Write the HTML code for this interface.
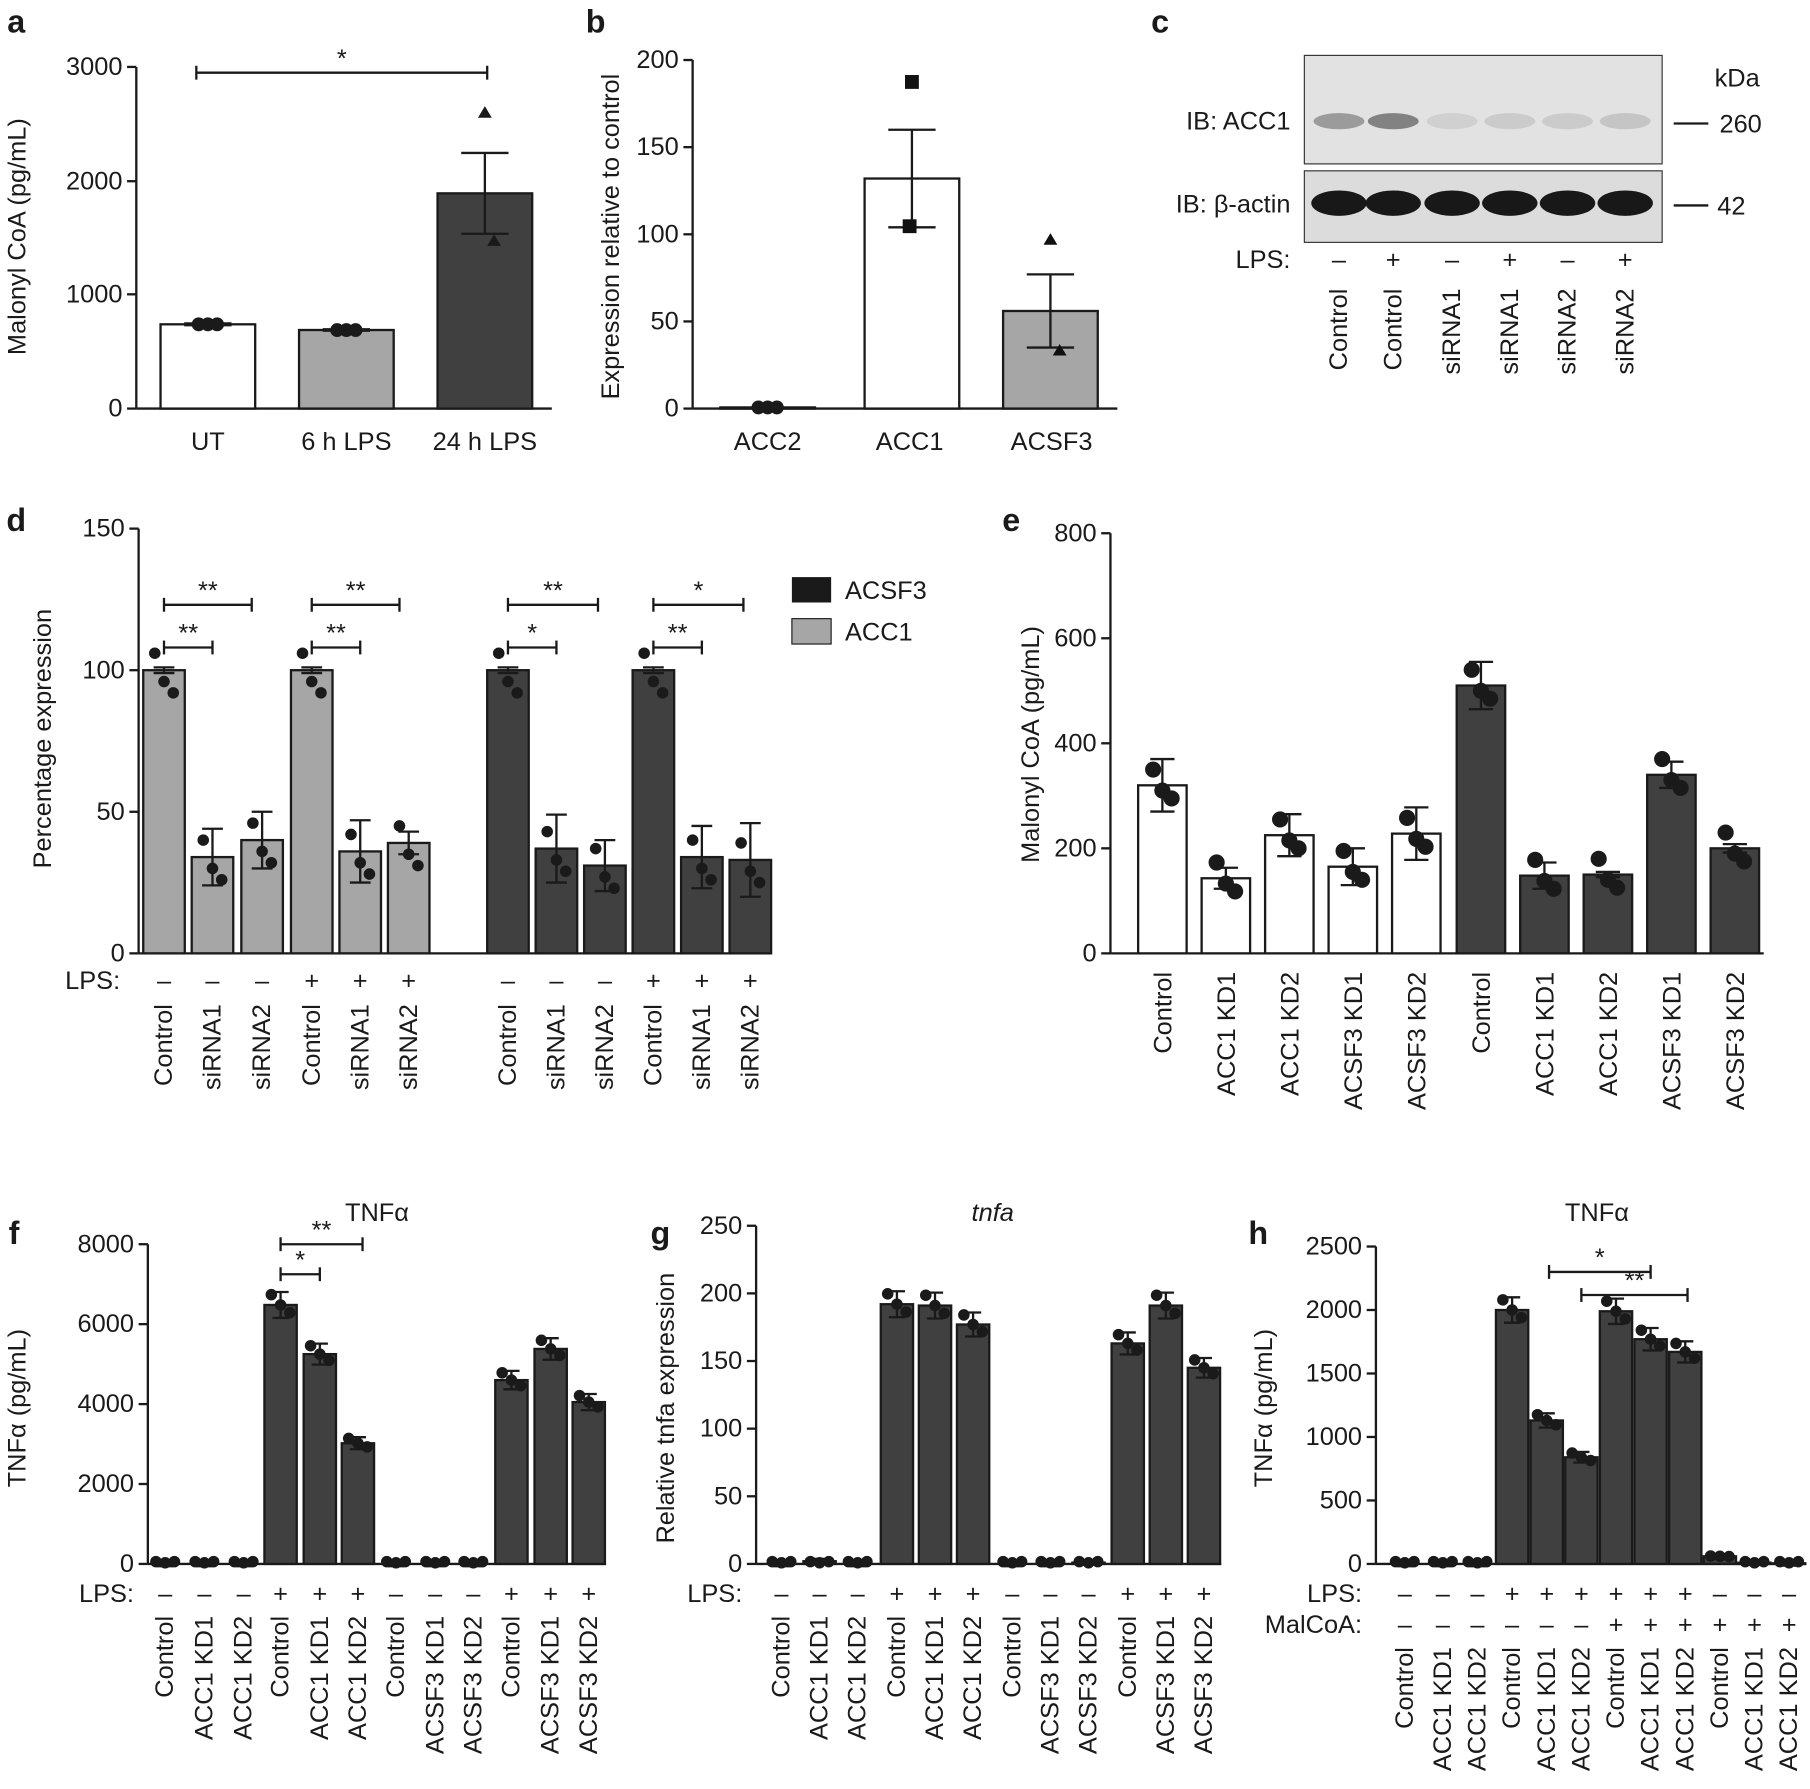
<!DOCTYPE html>
<html><head><meta charset="utf-8"><style>body{margin:0;background:#fff}svg{display:block}</style></head>
<body>
<svg id="s" xmlns="http://www.w3.org/2000/svg" width="1810" height="1789" viewBox="0 0 1568 1550" font-family="Liberation Sans, DejaVu Sans, sans-serif" font-size="22" fill="#1a1a1a"></svg>
<script>
const S=document.getElementById('s');let h='';
const W='#fff',G='#a6a6a6',D='#404040';
function t(x,y,s,o={}){h+=`<text x="${x}" y="${y}" font-size="${o.fs||22}" text-anchor="${o.a||'middle'}" ${o.r?`transform="rotate(-90 ${x} ${y})"`:''} ${o.b?'font-weight="bold"':''} ${o.i?'font-style="italic"':''}>${s}</text>`;}
function l(x1,y1,x2,y2,w=2){h+=`<line x1="${x1}" y1="${y1}" x2="${x2}" y2="${y2}" stroke="#1a1a1a" stroke-width="${w}"/>`;}
function axis(x,y0,y1,ticks,x2){l(x,y0,x,y1);l(x,y0,x2,y0);ticks.forEach(([v,y])=>{l(x-8,y,x,y);t(x-12,y+7,v,{a:'end'});});}
function bar(cx,w,y0,y,fill,err){h+=`<rect x="${cx-w/2}" y="${y}" width="${w}" height="${y0-y}" fill="${fill}" stroke="#1a1a1a" stroke-width="2"/>`;if(err){l(cx,y-err,cx,y+err);l(cx-w/4,y-err,cx+w/4,y-err);l(cx-w/4,y+err,cx+w/4,y+err);}}
function dots(cx,ys,r=6){ys.forEach((y,i)=>{h+=`<circle cx="${cx+(i-1)*8}" cy="${y}" r="${r}" fill="#1a1a1a"/>`;});}
function sig(x1,x2,y,s){l(x1,y,x2,y);l(x1,y-6,x1,y+6);l(x2,y-6,x2,y+6);t((x1+x2)/2,y-5,s);}
// a
t(14,28,'a',{b:1,fs:28});
{const y0=354,k=296/3000;axis(118,y0,58,[[0,354],[1000,255],[2000,157],[3000,58]],478);
[[180,740,W,8],[300,690,G,6],[420,1890,D,355]].forEach(([c,v,f,e])=>bar(c,82,y0,y0-v*k,f,e*k));
dots(180,[281,281,281]);dots(300,[286,286,286]);h+=`<path d="M420 92l6 10h-12zM428 203l6 10h-12z" fill="#1a1a1a"/>`;
['UT','6 h LPS','24 h LPS'].forEach((s,i)=>t(180+i*120,390,s));sig(170,422,63,'*');t(22,205,'Malonyl CoA (pg/mL)',{r:1});}
// b
t(516,28,'b',{b:1,fs:28});
{const y0=354,k=302/200;axis(600,y0,52,[0,50,100,150,200].map(v=>[v,y0-v*k]),968);
bar(665,82,y0,y0-1,W,0);dots(665,[353,353,353]);bar(790,82,y0,y0-132*k,W,28*k);bar(910,82,y0,y0-56*k,G,21*k);
h+=`<rect x="784" y="65" width="12" height="12" fill="#111"/><rect x="782" y="190" width="12" height="12" fill="#111"/><path d="M910 202l6 10h-12zM918 298l6 10h-12z" fill="#111"/>`;
['ACC2','ACC1','ACSF3'].forEach((s,i)=>t(665+i*123,390,s));t(536,205,'Expression relative to control',{r:1});}
// c
t(1005,28,'c',{b:1,fs:28});
h+=`<rect x="1130" y="48" width="310" height="94" fill="#e2e2e2" stroke="#333"/><rect x="1130" y="148" width="310" height="62" fill="#dcdcdc" stroke="#333"/>`;
[1160,1207,1258,1308,1358,1408].forEach((x,i)=>{const o=[0.4,0.55,0.1,0.13,0.13,0.16][i];h+=`<ellipse cx="${x}" cy="105" rx="22" ry="7" fill="#333" opacity="${o}"/><ellipse cx="${x}" cy="176" rx="24" ry="11" fill="#181818"/>`;});
t(1118,112,'IB: ACC1',{a:'end'});t(1118,184,'IB: β-actin',{a:'end'});t(1118,232,'LPS:',{a:'end'});t(1505,75,'kDa');
l(1450,107,1480,107);t(1508,115,'260');l(1450,178,1480,178);t(1500,186,'42');
['Control','Control','siRNA1','siRNA1','siRNA2','siRNA2'].forEach((s,i)=>{const x=[1160,1207,1258,1308,1358,1408][i];t(x,232,i%2?'+':'–');t(x+7,250,s,{r:1,a:'end'});});
// d
t(14,460,'d',{b:1,fs:28});
{const y0=826,k=368/150;axis(120,y0,458,[0,50,100,150].map(v=>[v,y0-v*k]),668);
const c=[142,184,227,270,312,354,440,482,524,566,608,650],v=[100,34,40,100,36,39,100,37,31,100,34,33],e=[1,10,10,1,11,4,1,12,9,1,11,13];
c.forEach((x,i)=>{bar(x,36,y0,y0-v[i]*k,i<6?G:D,e[i]*k);dots(x,[y0-(v[i]+6)*k,y0-(v[i]-4)*k,y0-(v[i]-8)*k],5);});
t(104,857,'LPS:',{a:'end'});c.forEach((x,i)=>{t(x,857,[0,1,2,6,7,8].includes(i)?'–':'+');t(x+7,870,['Control','siRNA1','siRNA2'][i%3],{r:1,a:'end'});});
[[142,184,561],[142,218,524],[270,312,561],[270,346,524],[440,482,561],[440,518,524],[566,608,561],[566,644,524]].forEach(([a,b,y],i)=>sig(a,b,y,[ '**','**','**','**','*','**','**','*'][i]));
h+=`<rect x="686" y="500" width="34" height="22" fill="#1a1a1a"/><rect x="686" y="536" width="34" height="22" fill="${G}" stroke="#1a1a1a"/>`;t(732,519,'ACSF3',{a:'start'});t(732,555,'ACC1',{a:'start'});
t(44,640,'Percentage expression',{r:1});}
// e
t(876,460,'e',{b:1,fs:28});
{const y0=826,k=364/800;axis(962,y0,462,[0,200,400,600,800].map(v=>[v,y0-v*k]),1528);
const c=[1007,1062,1117,1172,1227,1283,1338,1393,1448,1503],v=[320,143,225,165,228,510,148,150,340,200],e=[50,20,40,35,50,45,25,5,25,8];
c.forEach((x,i)=>{bar(x,42,y0,y0-v[i]*k,i<5?W:D,e[i]*k);dots(x,[y0-(v[i]+30)*k,y0-(v[i]-10)*k,y0-(v[i]-25)*k],7);});
const L=['Control','ACC1 KD1','ACC1 KD2','ACSF3 KD1','ACSF3 KD2'];c.forEach((x,i)=>t(x+8,842,L[i%5],{r:1,a:'end'}));
t(900,645,'Malonyl CoA (pg/mL)',{r:1});}
// f,g,h
function panel(lab,lx,ax,ytop,maxv,ticks,c,v,rows,labels,title,ylab,ylx,ita,xend){
t(lx,1078,lab,{b:1,fs:28});const y0=1355,k=(y0-ytop)/maxv;axis(ax,y0,ytop,ticks.map(q=>[q,y0-q*k]),xend);
c.forEach((x,i)=>{bar(x,28,y0,y0-v[i]*k,D,v[i]>20?v[i]*0.05*k:2);if(v[i]>20)dots(x,[y0-v[i]*1.04*k,y0-v[i]*k,y0-v[i]*0.97*k],5);else dots(x,[y0-2,y0-1,y0-2],5);});
rows.forEach((r,ri)=>{t(ax-12,1388+ri*27,r[0],{a:'end'});c.forEach((x,i)=>t(x,1388+ri*27,r[1][i]?'+':'–'));});
const ly=1400+(rows.length-1)*27;c.forEach((x,i)=>t(x+7,ly,labels[i],{r:1,a:'end'}));
t((c[0]+c[c.length-1])/2,1058,title,{i:ita,fs:22});t(ylx,1220,ylab,{r:1});}
const L6=['Control','ACC1 KD1','ACC1 KD2','Control','ACC1 KD1','ACC1 KD2','Control','ACSF3 KD1','ACSF3 KD2','Control','ACSF3 KD1','ACSF3 KD2'];
const P=[0,0,0,1,1,1,0,0,0,1,1,1];
panel('f',12,128,1078,8000,[0,2000,4000,6000,8000],[143,177,211,243,277,310,343,377,410,443,477,510],[0,0,0,6480,5250,3020,0,0,0,4600,5380,4050],[['LPS:',P]],L6,'TNFα','TNFα (pg/mL)',22,0,525);
sig(243,277,1104,'*');sig(243,314,1078,'**');
panel('g',572,655,1062,250,[0,50,100,150,200,250],[677,710,743,777,810,843,877,910,943,977,1010,1043],[0,2,0,192,191,177,0,0,1,163,191,145],[['LPS:',P]],L6,'tnfa','Relative tnfa expression',584,1,1058);
panel('h',1090,1192,1080,2500,[0,500,1000,1500,2000,2500],[1217,1250,1280,1310,1340,1370,1400,1430,1460,1490,1520,1550],[0,0,0,2000,1130,840,1990,1770,1670,60,10,5],[['LPS:',[0,0,0,1,1,1,1,1,1,0,0,0]],['MalCoA:',[0,0,0,0,0,0,1,1,1,1,1,1]]],['Control','ACC1 KD1','ACC1 KD2','Control','ACC1 KD1','ACC1 KD2','Control','ACC1 KD1','ACC1 KD2','Control','ACC1 KD1','ACC1 KD2'],'TNFα','TNFα (pg/mL)',1102,0,1565);
sig(1342,1430,1102,'*');sig(1370,1462,1122,'**');
S.innerHTML=h;
</script>
</body></html>
